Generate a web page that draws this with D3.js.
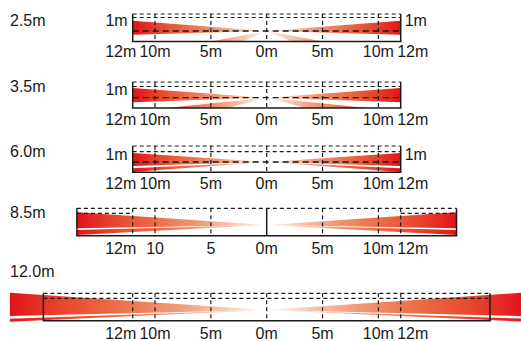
<!DOCTYPE html>
<html><head><meta charset="utf-8">
<script src="https://cdn.jsdelivr.net/npm/d3@7"></script>
<style>
body{margin:0;background:#fff}
svg{display:block}
text{font-family:"Liberation Sans",Arial,sans-serif;font-size:16px;fill:#1a1a1a}
</style></head><body>
<script>
// ---- data ----
const heightLabels = ["2.5m", "3.5m", "6.0m", "8.5m", "12.0m"];
const tickMeters = [-12, -10, -5, 0, 5, 10, 12];
const tickLabelsStd = ["12m", "10m", "5m", "0m", "5m", "10m", "12m"];
const tickLabels85 = ["12m", "10", "5", "0m", "5m", "10m", "12m"];
const boxHalf = [12, 12, 12, 17, 20];          // half width of frame (m)
const beamReach = [12, 12, 12, 17, 23];        // how far the beams are drawn (m)
const apexLevel = [10.5, 10.3, 10.3, 10.7, 10.7];
const innerLevel = [24, 21.5, 20.7, 22.4, 22.4];
const topLevel = [27.5, 26, 26.3, 27.4, 27.4];
const upperBeam = [[20.8, 6.8], [20, 5.8], [19.3, 6.3], [23.4, 7.4], [28, 4.7]];
const lowerBeam = [
  [[5, 0], [2.2, 0]],
  [[9, 0], [3.5, 0]],
  [[12, 4], [12, 0.3]],
  [[17, 5.7], [17, 0.7]],
  [[23, 2], [23, -1]]
];
const innerSpans = [[[-12, 12]], [[-12, 12]], [[-12, 12]], [[-17, -12], [12, 17]], [[-20, 20]]];
const midDashed = [true, true, true, false, false];
const zeroSolid = [false, false, false, true, false];
const oneMeterLeft = [true, true, true, false, false];
const oneMeterRight = [true, false, true, false, false];

// ---- layout ----
const W = 521, H = 341;
const bottoms = [41.5, 108, 172.3, 235.7, 320.7];
const titleY = [20, 86, 151, 212, 271];
const tickY = [57, 124.5, 189, 253.5, 339];

const svg = d3.select("body").append("svg").attr("width", W).attr("height", H);
const defs = svg.append("defs");
const x = d3.scaleLinear().domain([-12, 12]).range([132.7, 400.7]);

const stops = [
  [0, "#e1141b"], [0.2, "#e7462c"], [0.45, "#ed7450"], [0.65, "#f29a78"],
  [0.85, "#f8cdb9"], [0.97, "#fdf0ea"], [1, "#ffffff"]
];

heightLabels.forEach((lab, i) => {
  const y = d3.scaleLinear().domain([0, 1]).range([bottoms[i], bottoms[i] - 1]);
  const g = svg.append("g");
  const half = boxHalf[i];

  [-1, 1].forEach(s => {
    const grad = defs.append("linearGradient")
      .attr("id", `g${i}${s > 0 ? "r" : "l"}`)
      .attr("gradientUnits", "userSpaceOnUse")
      .attr("x1", x(s * beamReach[i])).attr("x2", x(0))
      .attr("y1", 0).attr("y2", 0);
    stops.forEach(st => grad.append("stop").attr("offset", st[0]).attr("stop-color", st[1]));
  });

  const line = d3.line().x(d => x(d[0])).y(d => y(d[1]));
  [-1, 1].forEach(s => {
    const fill = `url(#g${i}${s > 0 ? "r" : "l"})`;
    const r = beamReach[i];
    g.append("path")
      .attr("d", line([[0, apexLevel[i]], [s * r, upperBeam[i][0]], [s * r, upperBeam[i][1]]]) + "Z")
      .attr("fill", fill);
    const lb = lowerBeam[i];
    g.append("path")
      .attr("d", line([[0, apexLevel[i]], [s * lb[0][0], lb[0][1]], [s * lb[1][0], lb[1][1]]]) + "Z")
      .attr("fill", fill);
  });

  const dash = "4,3";
  const stroke = "#1a1a1a";
  g.append("line").attr("x1", x(-half)).attr("x2", x(half))
    .attr("y1", y(topLevel[i])).attr("y2", y(topLevel[i]))
    .attr("stroke", stroke).attr("stroke-width", 1.2).attr("stroke-dasharray", dash);
  innerSpans[i].forEach(sp => {
    g.append("line").attr("x1", x(sp[0])).attr("x2", x(sp[1]))
      .attr("y1", y(innerLevel[i])).attr("y2", y(innerLevel[i]))
      .attr("stroke", stroke).attr("stroke-width", 1.2).attr("stroke-dasharray", dash);
  });
  if (midDashed[i]) {
    g.append("line").attr("x1", x(-half)).attr("x2", x(half))
      .attr("y1", y(apexLevel[i])).attr("y2", y(apexLevel[i]))
      .attr("stroke", stroke).attr("stroke-width", 1.3).attr("stroke-dasharray", "6,4");
  }
  tickMeters.forEach(m => {
    if (Math.abs(m) >= half) return;
    const solid = (m === 0 && zeroSolid[i]);
    g.append("line").attr("x1", x(m)).attr("x2", x(m))
      .attr("y1", y(topLevel[i])).attr("y2", y(0))
      .attr("stroke", stroke).attr("stroke-width", solid ? 1.5 : 1.2)
      .attr("stroke-dasharray", solid ? null : "4,3");
  });
  [-half, half].forEach(m => {
    g.append("line").attr("x1", x(m)).attr("x2", x(m))
      .attr("y1", y(topLevel[i])).attr("y2", y(0))
      .attr("stroke", stroke).attr("stroke-width", 1.5);
  });
  g.append("line").attr("x1", x(-half) - 0.7).attr("x2", x(half) + 0.7)
    .attr("y1", y(0)).attr("y2", y(0))
    .attr("stroke", stroke).attr("stroke-width", 1.6);

  const labs = i === 3 ? tickLabels85 : tickLabelsStd;
  tickMeters.forEach((m, k) => {
    const off = Math.abs(m) === 12 ? Math.sign(m) * 12 : 0;
    g.append("text").attr("x", x(m) + off).attr("y", tickY[i])
      .attr("text-anchor", "middle").text(labs[k]);
  });

  g.append("text").attr("x", 10).attr("y", titleY[i] + 5.5).text(lab);
  if (oneMeterLeft[i]) {
    g.append("text").attr("x", x(-half) - 5).attr("y", y(innerLevel[i]) + 8)
      .attr("text-anchor", "end").text("1m");
  }
  if (oneMeterRight[i]) {
    g.append("text").attr("x", x(half) + 4).attr("y", y(innerLevel[i]) + 8)
      .attr("text-anchor", "start").text("1m");
  }
});
</script>
</body></html>
